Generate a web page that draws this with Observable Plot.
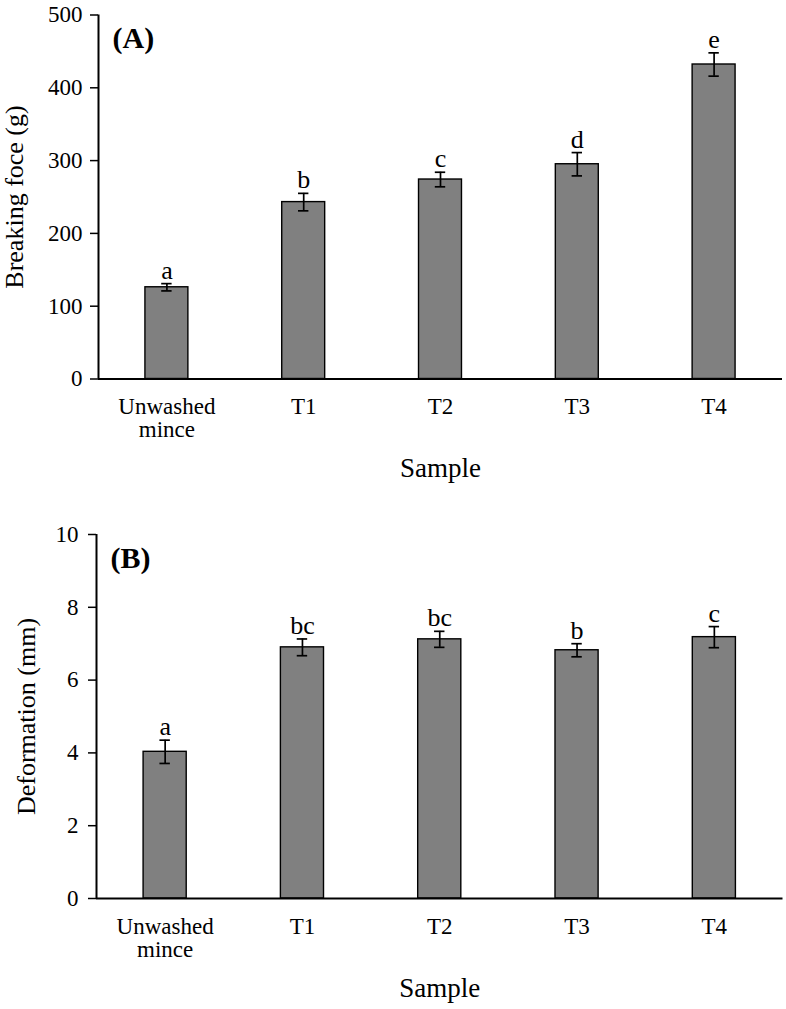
<!DOCTYPE html>
<html>
<head>
<meta charset="utf-8">
<script src="https://cdn.jsdelivr.net/npm/d3@7"></script>
<script src="https://cdn.jsdelivr.net/npm/@observablehq/plot@0.6"></script>
<style>
  html, body { margin: 0; padding: 0; background: white; }
  #chart svg { display: block; }
</style>
</head>
<body>
<div id="chart"></div>
<script>
const categories = ["Unwashed mince", "T1", "T2", "T3", "T4"];

const breakingForce = [126, 243, 274, 295, 432];
const breakingForceErr = [5, 12, 10, 16, 16];
const breakingLetters = ["a", "b", "c", "d", "e"];
const breakingTicks = [0, 100, 200, 300, 400, 500];

const deformation = [4.03, 6.90, 7.12, 6.82, 7.18];
const deformationErr = [0.32, 0.23, 0.22, 0.18, 0.29];
const deformationLetters = ["a", "bc", "bc", "b", "c"];
const deformationTicks = [0, 2, 4, 6, 8, 10];

const FONT = "'Liberation Serif', 'Times New Roman', Times, serif";

function panel({values, errs, letters, yDomain, yTicks, yLabel, tag, height, marginTop, marginBottom, marginLeft, marginRight, yLabelDx, tickPadding}) {
  const rows = categories.map((c, i) => ({
    i, c, v: values[i], lo: values[i] - errs[i], hi: values[i] + errs[i], letter: letters[i]
  }));
  return Plot.plot({
    width: 786,
    height, marginTop, marginBottom, marginLeft, marginRight,
    style: {fontFamily: FONT, fontSize: "23px", color: "black", background: "white", overflow: "visible"},
    x: {type: "linear", domain: [-0.5, categories.length - 0.5], axis: null},
    y: {domain: yDomain, axis: null},
    marks: [
      Plot.rectY(rows, {x1: d => d.i - 0.157, x2: d => d.i + 0.157, y1: 0, y2: "v", fill: "#808080", stroke: "black", strokeWidth: 1.4}),
      Plot.ruleX(rows, {x: "i", y1: "lo", y2: "hi", stroke: "black", strokeWidth: 1.7}),
      Plot.ruleY(rows, {y: "hi", x1: d => d.i - 0.038, x2: d => d.i + 0.038, stroke: "black", strokeWidth: 1.7}),
      Plot.ruleY(rows, {y: "lo", x1: d => d.i - 0.038, x2: d => d.i + 0.038, stroke: "black", strokeWidth: 1.7}),
      Plot.text(rows, {x: "i", y: "hi", text: "letter", lineAnchor: "bottom", dy: -5, fontSize: 26, fill: "black"}),
      Plot.axisY({ticks: yTicks, tickSize: 8, tickPadding, label: null, fontSize: 23, stroke: "black", strokeWidth: 1.5}),
      Plot.axisX({ticks: categories.map((c, i) => i), tickFormat: i => categories[i].replace(" ", "\n"), tickSize: 0, tickPadding: 19, label: null, fontSize: 23, lineHeight: 1.0}),
      Plot.ruleY([0], {stroke: "black", strokeWidth: 2}),
      Plot.ruleX([-0.5], {stroke: "black", strokeWidth: 2}),
      Plot.text([yLabel], {text: d => d, frameAnchor: "left", textAnchor: "middle", rotate: -90, dx: yLabelDx, fontSize: 26, fill: "black"}),
      Plot.text(["Sample"], {text: d => d, frameAnchor: "bottom", textAnchor: "middle", dy: 98, fontSize: 27, fill: "black"}),
      Plot.text([tag], {text: d => d, frameAnchor: "top-left", textAnchor: "start", dx: 14, dy: 12, fontWeight: "bold", fontSize: 30, fill: "black"})
    ]
  });
}

const chart = document.getElementById("chart");
chart.append(panel({
  values: breakingForce, errs: breakingForceErr, letters: breakingLetters,
  yDomain: [0, 500], yTicks: breakingTicks, yLabel: "Breaking foce (g)", tag: "(A)",
  height: 505, marginTop: 14.5, marginBottom: 126.5, marginLeft: 98, marginRight: 4,
  yLabelDx: -84, tickPadding: 8
}));
chart.append(panel({
  values: deformation, errs: deformationErr, letters: deformationLetters,
  yDomain: [0, 10], yTicks: deformationTicks, yLabel: "Deformation (mm)", tag: "(B)",
  height: 504, marginTop: 29, marginBottom: 111, marginLeft: 96, marginRight: 3.5,
  yLabelDx: -70, tickPadding: 10
}));
</script>
</body>
</html>
